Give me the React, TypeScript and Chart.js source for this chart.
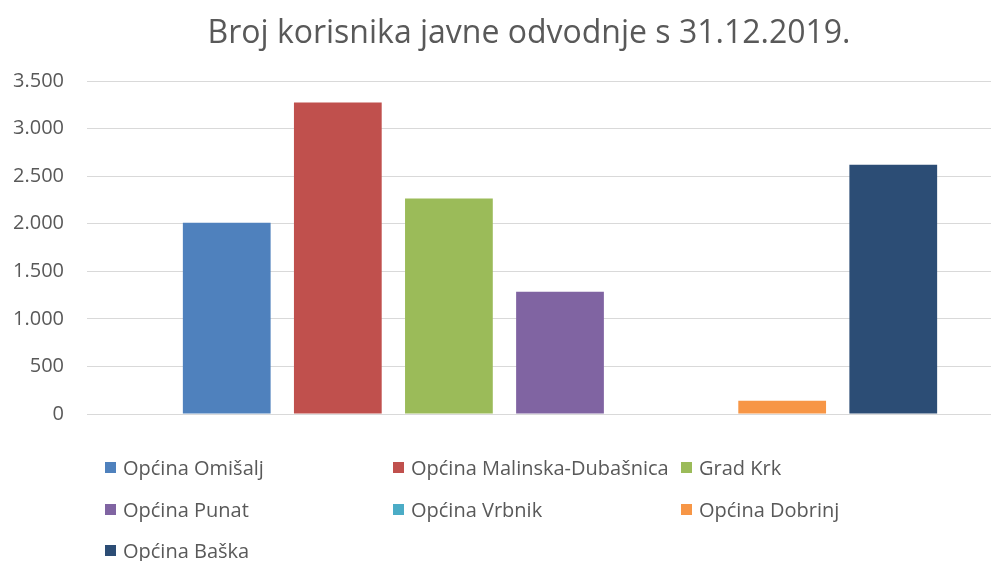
import React, { useEffect, useRef } from "react";
import { Chart, registerables } from "chart.js";

Chart.register(...registerables);

const categories: string[] = ["Broj korisnika"];
const seriesNames: string[] = [
  "Općina Omišalj",
  "Općina Malinska-Dubašnica",
  "Grad Krk",
  "Općina Punat",
  "Općina Vrbnik",
  "Općina Dobrinj",
  "Općina Baška",
];
const seriesValues: number[] = [2010, 3275, 2265, 1285, 0, 140, 2620];
const seriesColors: string[] = [
  "#4F81BD",
  "#C0504D",
  "#9BBB59",
  "#8064A2",
  "#4BACC6",
  "#F79646",
  "#2C4D75",
];
const titleText = "Broj korisnika javne odvodnje s 31.12.2019.";
const yMin = 0;
const yMax = 3500;
const yStep = 500;

const FONT = "'Open Sans', 'DejaVu Sans', sans-serif";
const TEXT = "#595959";

const fmt = (v: number) =>
  Math.round(v)
    .toString()
    .replace(/\B(?=(\d{3})+(?!\d))/g, ".");

const legendCols = [105, 393, 681];
const legendRows = [467, 509, 550];

export default function App() {
  const ref = useRef<HTMLCanvasElement | null>(null);

  useEffect(() => {
    if (!ref.current) return;
    const chart = new Chart(ref.current, {
      type: "bar",
      data: {
        labels: categories,
        datasets: seriesNames.map((name, i) => ({
          label: name,
          data: [seriesValues[i]],
          backgroundColor: seriesColors[i],
          borderWidth: 0,
          categoryPercentage: 0.822,
          barPercentage: 0.79,
        })),
      },
      options: {
        responsive: false,
        animation: false,
        layout: { padding: { left: 0, right: 25, top: 81, bottom: 147 } },
        plugins: {
          legend: { display: false },
          tooltip: { enabled: false },
          title: { display: false },
        },
        scales: {
          x: { display: false },
          y: {
            min: yMin,
            max: yMax,
            ticks: {
              stepSize: yStep,
              color: TEXT,
              font: { family: FONT, size: 20 },
              padding: 23,
              callback: (v: any) => fmt(Number(v)),
            },
            grid: { color: "#D9D9D9", lineWidth: 1, drawTicks: false },
            border: { display: false },
            afterFit: (s: any) => {
              s.width = 87;
            },
          },
        },
      },
    } as any);
    return () => chart.destroy();
  }, []);

  return (
    <div
      style={{
        position: "absolute",
        left: 0,
        top: 0,
        width: 991,
        height: 561,
        overflow: "hidden",
        background: "#fff",
      }}
    >
      <canvas ref={ref} width={1058} height={561} style={{ display: "block" }} />
      <div
        style={{
          position: "absolute",
          left: 0,
          top: 12,
          width: 1058,
          height: 38,
          lineHeight: "38px",
          textAlign: "center",
          fontFamily: FONT,
          fontSize: 32,
          color: TEXT,
          whiteSpace: "nowrap",
        }}
      >
        {titleText}
      </div>
      {seriesNames.map((name, i) => (
        <div
          key={name}
          style={{
            position: "absolute",
            left: legendCols[i % 3],
            top: legendRows[Math.floor(i / 3)] - 14,
            height: 28,
            display: "flex",
            alignItems: "center",
            whiteSpace: "nowrap",
            fontFamily: FONT,
            fontSize: 20,
            color: TEXT,
          }}
        >
          <span
            style={{
              display: "inline-block",
              width: 11,
              height: 11,
              background: seriesColors[i],
              marginRight: 7,
            }}
          />
          {name}
        </div>
      ))}
    </div>
  );
}
